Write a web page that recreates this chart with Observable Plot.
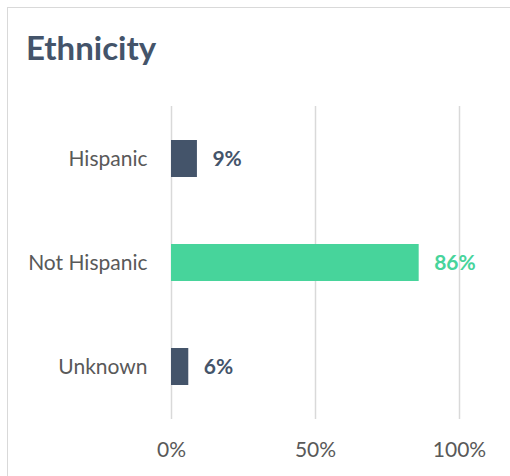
<!DOCTYPE html>
<html>
<head>
<meta charset="utf-8">
<script src="https://cdn.jsdelivr.net/npm/d3@7"></script>
<script src="https://cdn.jsdelivr.net/npm/@observablehq/plot@0.6"></script>
<style>
  html, body { margin: 0; padding: 0; background: #fff; }
  #wrap { position: relative; width: 510px; height: 476px; overflow: hidden; font-family: Lato, "Open Sans", sans-serif; }
  #frame { position: absolute; left: 7px; top: 7px; width: 520px; height: 480px; border-left: 1.5px solid #d9d9d9; border-top: 1.5px solid #d9d9d9; box-sizing: border-box; }
  #title { position: absolute; left: 26px; top: 31px; font-size: 33px; font-weight: bold; color: #44546a; line-height: 1; }
  #chart { position: absolute; left: 0; top: 0; }
</style>
</head>
<body>
<div id="wrap">
  <div id="frame"></div>
  <div id="title">Ethnicity</div>
  <div id="chart"></div>
</div>
<script>
const categories = ["Hispanic", "Not Hispanic", "Unknown"];
const values = [0.09, 0.86, 0.06];
const barColors = ["#44546a", "#47d49b", "#44546a"];
const xTicks = [0, 0.5, 1];

const data = categories.map((c, i) => ({category: c, value: values[i], color: barColors[i]}));

const chart = Plot.plot({
  width: 510,
  height: 476,
  marginLeft: 171,
  marginRight: 51,
  marginTop: 106,
  marginBottom: 57,
  style: {fontFamily: "Lato, 'Open Sans', sans-serif", fontSize: "21px", background: "transparent", overflow: "visible"},
  x: {domain: [0, 1], ticks: xTicks, tickFormat: d3.format(".0%")},
  y: {domain: categories, range: [108.7, 416.8], paddingInner: 0.645, paddingOuter: 0.3},
  marks: [
    Plot.gridX(xTicks, {stroke: "#d9d9d9", strokeOpacity: 1, strokeWidth: 1.5}),
    Plot.axisX({ticks: xTicks, tickFormat: d3.format(".0%"), tickSize: 0, tickPadding: 23, fill: "#595959", fontSize: 21, label: null}),
    Plot.axisY({tickSize: 0, tickPadding: 24, fill: "#595959", fontSize: 21, label: null}),
    Plot.barX(data, {x: "value", y: "category", fill: "color"}),
    Plot.text(data, {x: "value", y: "category", text: d => Math.round(d.value * 100) + "%", dx: 15, textAnchor: "start", fill: "color", fontWeight: "bold", fontSize: 21})
  ]
});
document.getElementById("chart").appendChild(chart);
</script>
</body>
</html>
